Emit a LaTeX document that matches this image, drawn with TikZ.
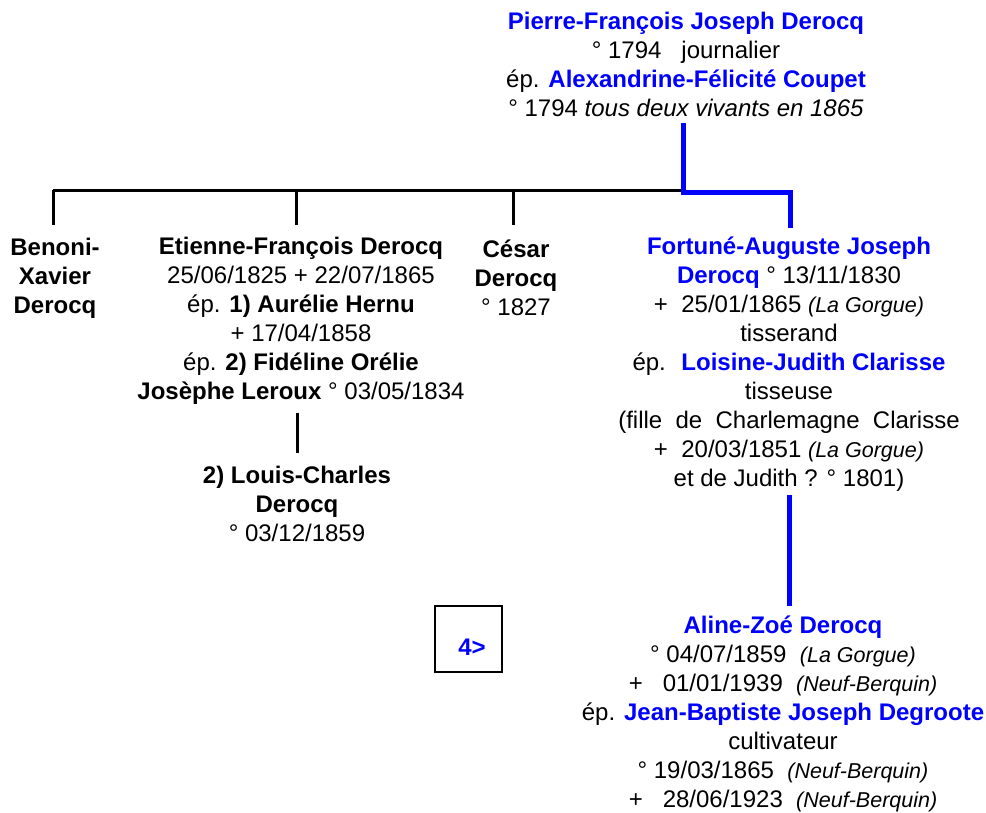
\documentclass[tikz,border=0pt]{standalone}
\usepackage{fontspec}
\setmainfont{Liberation Sans}
\definecolor{gblue}{RGB}{0,0,255}
\newcommand\bluename[1]{\textcolor{gblue}{\textbf{#1}}}
\newcommand\plc[1]{{\fontsize{21.5}{29}\selectfont\itshape #1}}
\begin{document}
\begin{tikzpicture}[x=1pt,y=-1pt,
  person/.style={align=center, inner sep=0pt, font=\fontsize{24}{29}\selectfont},
  famline/.style={line width=3pt, black},
  blueline/.style={line width=5pt, gblue},
  refbox/.style={draw=black, line width=1.5pt, minimum width=67pt, minimum height=66pt, inner sep=0pt, font=\fontsize{24}{29}\selectfont}]
\fill[white] (0,0) rectangle (986,812);
\useasboundingbox (0,0) rectangle (986,812);

\node[person] (top) at (686,64) {\bluename{Pierre-François Joseph Derocq}\\° 1794 \ \ journalier\\ép. \bluename{Alexandrine-Félicité Coupet}\\° 1794 \textit{tous deux vivants en 1865}};

\node[person] (benoni) at (55,278) {\textbf{Benoni-}\\\textbf{Xavier}\\\textbf{Derocq}};

\node[person] (etienne) at (301,321) {\textbf{Etienne-François Derocq}\\25/06/1825 + 22/07/1865\\ép. \textbf{1) Aurélie Hernu}\\+ 17/04/1858\\ép. \textbf{2) Fidéline Orélie}\\\textbf{Josèphe Leroux} ° 03/05/1834};

\node[person] (cesar) at (516,278) {\textbf{César}\\\textbf{Derocq}\\° 1827};

\node[person] (fortune) at (789,364) {\bluename{Fortuné-Auguste Joseph}\\\bluename{Derocq} ° 13/11/1830\\+ \ 25/01/1865 \plc{(La Gorgue)}\\tisserand\\ép. \ \bluename{Loisine-Judith Clarisse}\\tisseuse\\(fille \ de \ Charlemagne \ Clarisse\\+ \ 20/03/1851 \plc{(La Gorgue)}\\et de Judith ? ° 1801)};

\node[person] (louis) at (297,504) {\textbf{2) Louis-Charles}\\\textbf{Derocq}\\° 03/12/1859};

\node[person] (aline) at (783,714) {\bluename{Aline-Zoé Derocq}\\° 04/07/1859 \ \plc{(La Gorgue)}\\+ \ \ 01/01/1939 \ \plc{(Neuf-Berquin)}\\ép. \bluename{Jean-Baptiste Joseph Degroote}\\cultivateur\\° 19/03/1865 \ \plc{(Neuf-Berquin)}\\+ \ \ 28/06/1923 \ \plc{(Neuf-Berquin)}};

\node[refbox] (ref) at (468.5,639) {\smash{\raisebox{-16.5pt}{\hspace*{7pt}\bluename{4>}}}};

% junction coordinates
\coordinate (jt) at (683,123);
\coordinate (j) at (683,190);
\coordinate (jr) at (790,192);
\coordinate (jrb) at (790,228);
\coordinate (b1) at (53,190);
\coordinate (b1e) at (53,225);
\coordinate (b2) at (296,190);
\coordinate (b2e) at (296,225);
\coordinate (b3) at (513,190);
\coordinate (b3e) at (513,225);
\coordinate (lt) at (297,413);
\coordinate (lb) at (297,453);
\coordinate (at) at (789,495);
\coordinate (ab) at (789,606);

\draw[famline] (b1) -- (j);
\draw[famline] (b1) -- (b1e);
\draw[famline] (b2) -- (b2e);
\draw[famline] (b3) -- (b3e);
\draw[famline] (lt) -- (lb);
\draw[blueline] (jt) -- (j |- jr) -- (jr) -- (jrb);
\draw[blueline] (at) -- (ab);
\end{tikzpicture}
\end{document}
